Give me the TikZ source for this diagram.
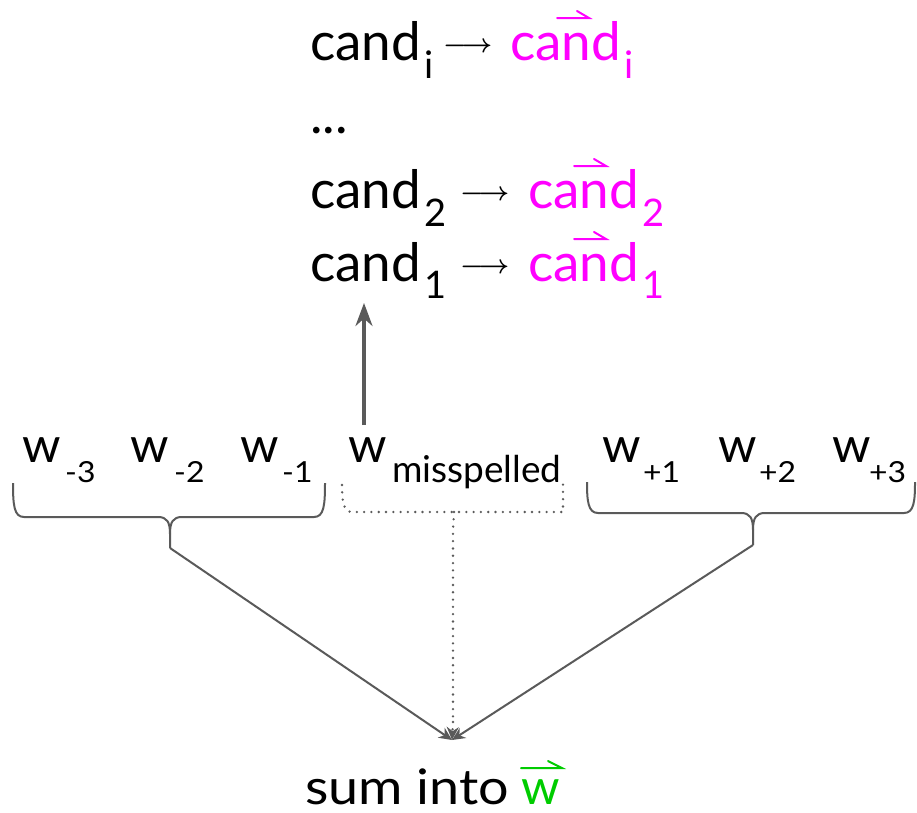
\documentclass[tikz,border=0pt]{standalone}
\usepackage{fontspec}
\setmainfont{Lato}
\newfontfamily\widelato[FakeStretch=1.1]{Lato}
\usetikzlibrary{arrows.meta}
\definecolor{mag}{RGB}{255,0,255}
\definecolor{grn}{RGB}{0,204,0}
\definecolor{lg}{RGB}{90,90,90}
\tikzset{
  txt/.style={inner sep=0pt, anchor=base west, font=\fontsize{53}{60}\selectfont},
  csub/.style={inner sep=0pt, anchor=base west, font=\fontsize{38}{44}\selectfont},
  arr/.style={inner sep=0pt, anchor=base west},
  wtxt/.style={inner sep=0pt, anchor=base west, font=\fontsize{49}{56}\selectfont},
  wsub/.style={inner sep=0pt, anchor=base west, font=\widelato\fontsize{29}{33}\selectfont},
  msub/.style={inner sep=0pt, anchor=base west, font=\fontsize{37}{42}\selectfont},
  sumtxt/.style={inner sep=0pt, anchor=base west, text depth=0pt, font=\widelato\fontsize{49}{56}\selectfont},
  harp/.style={line width=2pt, line cap=round},
  brace/.style={draw=lg, line width=2pt},
  dotbrace/.style={draw=lg, line width=2.6pt, line cap=round, dash pattern=on 0pt off 7.3pt},
  link/.style={draw=lg, line width=2pt, -{Stealth[length=13pt,width=12pt]}},
  mainarrow/.style={draw=lg, line width=3.3pt, -{Stealth[length=23pt,width=17pt]}}
}
\newcommand{\txtarrow}{\resizebox{49pt}{!}{\boldmath$\longrightarrow$}}
\begin{document}
\begin{tikzpicture}[x=1pt,y=-1pt]
\useasboundingbox (0,0) rectangle (917,812);

% ---- candidate lines ----
\node[txt] (ci) at (310,60) {cand};
\node[csub] (cis) at (424,78) {i};
\node[arr] (ai) at (443,52.5) {\txtarrow};
\node[txt,text=mag] (mi) at (510,60) {cand};
\node[csub,text=mag] (mis) at (624,78) {i};
\draw[harp,mag] (557,18) -- (589,18) -- (577,11);

\node[txt] (dots) at (310,133) {...};

\node[txt] (c2) at (310,208) {cand};
\node[csub] (c2s) at (424,226) {2};
\node[arr] (a2) at (460,200.5) {\txtarrow};
\node[txt,text=mag] (m2) at (528,208) {cand};
\node[csub,text=mag] (m2s) at (642,226) {2};
\draw[harp,mag] (574,166) -- (606,166) -- (594,159);

\node[txt] (c1) at (310,281) {cand};
\node[csub] (c1s) at (424,298) {1};
\node[arr] (a1) at (460,273.5) {\txtarrow};
\node[txt,text=mag] (m1) at (528,281) {cand};
\node[csub,text=mag] (m1s) at (642,298) {1};
\draw[harp,mag] (574,239) -- (606,239) -- (594,232);

% ---- context words ----
\node[wtxt] (wm3) at (22,462) {w};
\node[wsub] (wm3s) at (65,482) {-3};
\node[wtxt] (wm2) at (130,462) {w};
\node[wsub] (wm2s) at (174,482) {-2};
\node[wtxt] (wm1) at (240,462) {w};
\node[wsub] (wm1s) at (282,482) {-1};
\node[wtxt] (wx) at (348,462) {w};
\node[msub] (wxs) at (392,482) {misspelled};
\node[wtxt] (wp1) at (602,462) {w};
\node[wsub] (wp1s) at (643,482) {+1};
\node[wtxt] (wp2) at (718,462) {w};
\node[wsub] (wp2s) at (759,482) {+2};
\node[wtxt] (wp3) at (832,462) {w};
\node[wsub] (wp3s) at (869,482) {+3};

% ---- up arrow ----
\coordinate (upS) at (364,425);
\coordinate (upE) at (364,303);
\draw[mainarrow] (upS) -- (upE);

% ---- braces ----
\coordinate (lcusp) at (170,548);
\coordinate (rcusp) at (753,545);
\coordinate (mcusp) at (454,512);
\coordinate (tip) at (452,740);
\draw[brace] (13,483) .. controls (13,505) and (14,517) .. (24,517) -- (158,517)
  .. controls (167,517) and (170,522) .. (170,534) -- (lcusp);
\draw[brace] (325,483) .. controls (325,505) and (324,517) .. (314,517) -- (182,517)
  .. controls (173,517) and (170,522) .. (170,534);
\draw[brace] (587,482) .. controls (587,501) and (588,513) .. (598,513) -- (741,513)
  .. controls (750,513) and (753,518) .. (753,530) -- (rcusp);
\draw[brace] (915,482) .. controls (915,501) and (914,513) .. (904,513) -- (765,513)
  .. controls (756,513) and (753,518) .. (753,530);
\draw[dotbrace] (342,485) .. controls (342,500) and (343,512) .. (352,512) -- (563,512) -- (563,482);
\draw[dotbrace] (mcusp) -- (453,530) -- (453,722);

% ---- links to sum ----
\draw[link] (lcusp) -- (tip);
\draw[link] (rcusp) -- (tip);
\draw[draw=lg, line width=2.6pt, dash pattern=on 0pt off 7.3pt, line cap=round, -{Stealth[length=13pt,width=12pt]}] (453,722) -- (tip);

% ---- sum ----
\node[sumtxt] (sum) at (305,804) {sum into};
\node[sumtxt,font=\fontsize{49}{56}\selectfont,text=grn] (wv) at (521,804) {w};
\draw[harp,grn] (521,768) -- (562,768) -- (548,761);
\end{tikzpicture}
\end{document}
